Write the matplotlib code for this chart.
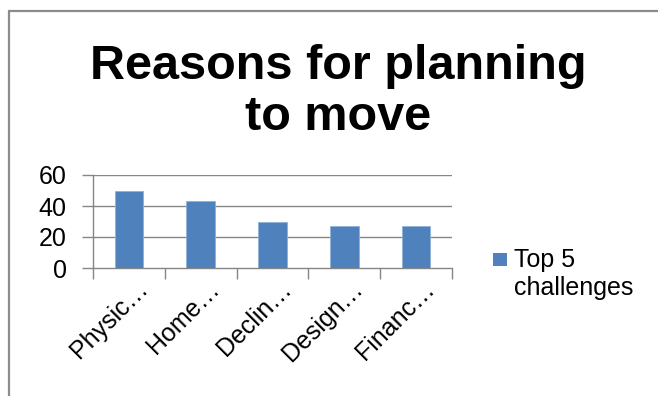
import matplotlib.pyplot as plt
from matplotlib.patches import Rectangle
from matplotlib.transforms import ScaledTranslation

plt.rcParams['font.family'] = ['Liberation Sans', 'DejaVu Sans']

categories = ['Physic…', 'Home…', 'Declin…', 'Design…', 'Financ…']
values = [50, 43, 30, 27, 27]
series_name = 'Top 5\nchallenges'
yticks = [0, 20, 40, 60]

bar_color = '#4F81BD'
grid_color = '#868686'

fig = plt.figure(figsize=(6.58, 3.96), dpi=100)

# outer chart border (runs off the right and bottom edges)
fig.patches.append(Rectangle((9 / 658, -0.1), 1.0, 1 - 11 / 396 + 0.1,
                             transform=fig.transFigure, fill=False,
                             edgecolor='#8c8c8c', linewidth=1.6))

ax = fig.add_axes([93 / 658, 1 - 268 / 396, (452 - 93) / 658, (268 - 175) / 396])
x = range(len(categories))
ax.bar(x, values, width=0.4, color=bar_color, edgecolor='#8fb0d8',
       linewidth=0.6, zorder=3)

ax.set_xlim(-0.5, len(categories) - 0.5)
ax.set_ylim(0, 60)
ax.set_yticks(yticks)
ax.set_yticklabels([str(v) for v in yticks], fontsize=18)
for y in yticks[1:]:
    ax.axhline(y, color=grid_color, linewidth=1.0, zorder=1)

# tick marks on the category boundaries
ax.set_xticks([i + 0.5 for i in range(-1, len(categories))])
ax.set_xticklabels([])
ax.tick_params(axis='x', length=8, color=grid_color, width=1.0)
ax.tick_params(axis='y', length=8, color=grid_color, width=1.0, pad=11)

# slanted category labels under each bar
offset = ScaledTranslation(15 / 100, -17 / 100, fig.dpi_scale_trans)
for i, cat in zip(x, categories):
    ax.text(i, 0, cat, transform=ax.get_xaxis_transform() + offset,
            rotation=45, ha='right', va='center', rotation_mode='anchor',
            fontsize=18)

for side in ['top', 'right']:
    ax.spines[side].set_visible(False)
for side in ['bottom', 'left']:
    ax.spines[side].set_color(grid_color)
    ax.spines[side].set_linewidth(1.0)

fig.text(338 / 658, 1 - 130 / 396, 'Reasons for planning\nto move',
         ha='center', va='baseline', fontsize=35, fontweight='bold',
         linespacing=1.17, multialignment='center')

# legend swatch and label
fig.patches.append(Rectangle((493 / 658, 1 - 266 / 396), 14 / 658, 13 / 396,
                             transform=fig.transFigure, facecolor=bar_color,
                             edgecolor='none'))
fig.text(514 / 658, 1 - 248 / 396, series_name, ha='left', va='top',
         fontsize=18, linespacing=1.2)

fig.savefig('out.png', dpi=100)
